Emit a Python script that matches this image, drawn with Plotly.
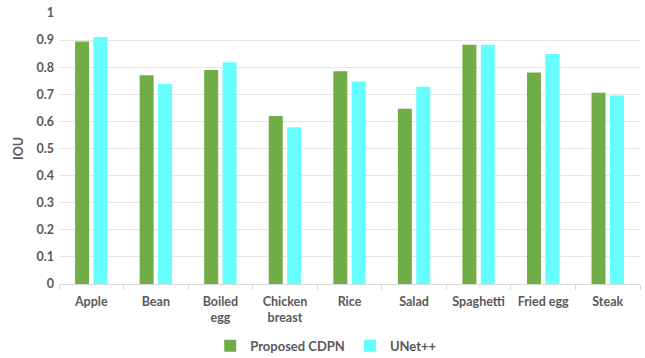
import plotly.graph_objects as go

categories = ["Apple", "Bean", "Boiled<br>egg", "Chicken<br>breast", "Rice",
              "Salad", "Spaghetti", "Fried egg", "Steak"]
cdpn_iou = [0.895, 0.770, 0.790, 0.620, 0.785, 0.647, 0.883, 0.780, 0.706]
unetpp_iou = [0.911, 0.738, 0.818, 0.578, 0.747, 0.728, 0.883, 0.849, 0.696]
y_ticks = [0, 0.1, 0.2, 0.3, 0.4, 0.5, 0.6, 0.7, 0.8, 0.9, 1]
y_tick_text = ["0", "0.1", "0.2", "0.3", "0.4", "0.5", "0.6", "0.7", "0.8", "0.9", "1"]

text_color = "#595959"
font_family = "Lato, 'Open Sans', sans-serif"

fig = go.Figure()
fig.add_trace(go.Bar(x=categories, y=cdpn_iou, name="Proposed CDPN",
                     marker=dict(color="#70AD47", line=dict(width=0))))
fig.add_trace(go.Bar(x=categories, y=unetpp_iou, name="UNet++",
                     marker=dict(color="#66FFFF", line=dict(width=0))))

fig.update_layout(
    width=645, height=358,
    margin=dict(l=59, r=5, t=11, b=74),
    paper_bgcolor="white", plot_bgcolor="white",
    barmode="group", bargap=0.43, bargroupgap=0.24,
    font=dict(family=font_family, size=12, color=text_color, weight="bold"),
    showlegend=True,
    legend=dict(orientation="h", xref="container", yref="container",
                x=0.505, xanchor="center", y=0.034, yanchor="middle",
                font=dict(family=font_family, size=13, color=text_color, weight="bold"),
                itemwidth=30, traceorder="normal"),
    xaxis=dict(
        type="category", showgrid=False, showline=True, linecolor="#D9D9D9",
        linewidth=1, ticks="outside", tickson="boundaries", ticklen=5,
        tickcolor="#D9D9D9", ticklabelstandoff=6,
        tickfont=dict(size=12.5, color=text_color, weight="bold"),
    ),
    yaxis=dict(
        range=[0, 1.0], tickvals=y_ticks, ticktext=y_tick_text,
        showgrid=True, gridcolor="#E6E6E6", gridwidth=1,
        zeroline=False, showline=False, ticks="", ticklabelstandoff=4,
        tickfont=dict(size=12.5, color=text_color, weight="bold"),
        title=dict(text="IOU", standoff=10,
                   font=dict(size=12.5, color=text_color, weight="bold")),
    ),
)

fig.write_html("out.html")
